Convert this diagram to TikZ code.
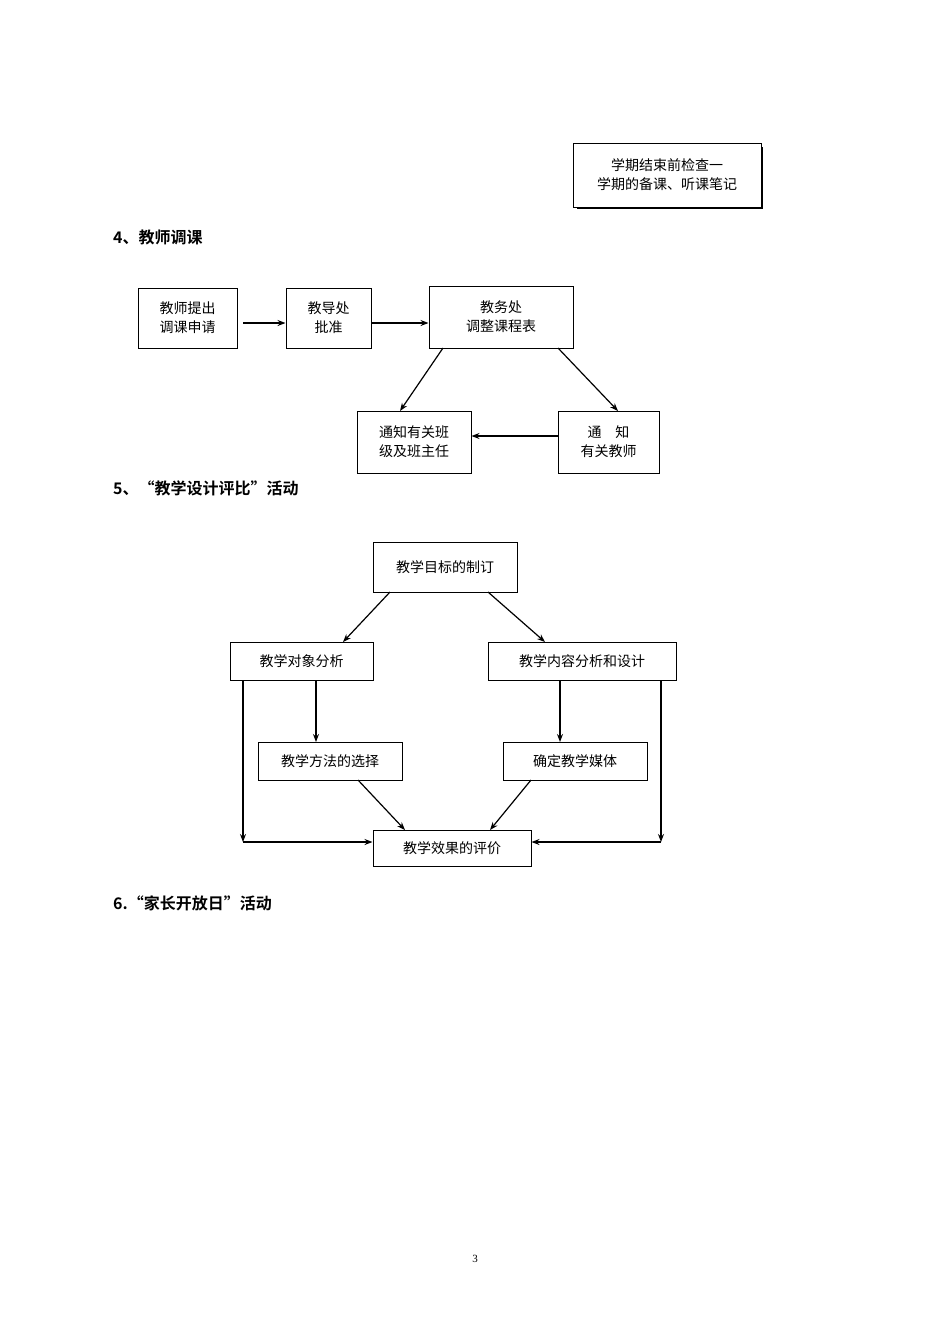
\documentclass[tikz,border=0pt]{standalone}
\usepackage{fontspec}
\setmainfont{Liberation Serif}
\newfontfamily\cjk{Noto Sans CJK SC}
\newfontfamily\cjkb{Noto Sans CJK SC Bold}
\usetikzlibrary{arrows.meta}
\begin{document}
\begin{tikzpicture}[x=1pt,y=-1pt,
 bx/.style={draw,line width=1pt,font=\cjk\fontsize{14}{19}\selectfont,align=center,inner sep=0pt},
 hd/.style={anchor=west,font=\cjkb\fontsize{16}{20}\selectfont,inner sep=0pt},
 ar/.style={line width=1.2pt,-{Stealth[length=8pt,width=6pt]}},
 ln/.style={line width=1.2pt}]
\useasboundingbox (0,0) rectangle (950,1344);
\fill[black] (577,147) rectangle (763,209);
\node[bx,fill=white,minimum width=188pt,minimum height=64pt] (t) at (667,175) {学期结束前检查一\\学期的备课、听课笔记};
\node[hd] (h4) at (113,237) {4、教师调课};
\node[bx,minimum width=99pt,minimum height=60pt] (a) at (187.5,318) {教师提出\\调课申请};
\node[bx,minimum width=85pt,minimum height=60pt] (b) at (328.5,318) {教导处\\批准};
\node[bx,minimum width=144pt,minimum height=62pt] (c) at (501,317) {教务处\\调整课程表};
\node[bx,minimum width=114pt,minimum height=62pt] (d) at (414,442) {通知有关班\\级及班主任};
\node[bx,minimum width=101pt,minimum height=62pt] (e) at (608.5,442) {通\quad 知\\有关教师};
\draw[ar] (243,323) -- (b.west|-0,323);
\draw[ar] (b.east|-0,323) -- (c.west|-0,323);
\draw[ar] (443,348) -- (400,411);
\draw[ar] (558,348) -- (618,411);
\draw[ar] (e.west|-0,436) -- (d.east|-0,436);
\node[hd] (h5) at (113,488) {5、“教学设计评比”活动};
\node[bx,minimum width=144pt,minimum height=50pt] (f) at (445,567) {教学目标的制订};
\node[bx,minimum width=143pt,minimum height=38pt] (g) at (301.5,661) {教学对象分析};
\node[bx,minimum width=188pt,minimum height=38pt] (h) at (582,661) {教学内容分析和设计};
\node[bx,minimum width=144pt,minimum height=38pt] (i) at (330,761) {教学方法的选择};
\node[bx,minimum width=144pt,minimum height=38pt] (j) at (575,761) {确定教学媒体};
\node[bx,minimum width=158pt,minimum height=36pt] (k) at (452,848) {教学效果的评价};
\draw[ar] (390,592) -- (343,642);
\draw[ar] (488,592) -- (545,642);
\draw[ar] (316,680) -- (316,742);
\draw[ar] (560,680) -- (560,742);
\draw[ar] (358,780) -- (405,830);
\draw[ar] (531,780) -- (490,830);
\coordinate (cl) at (243,842);
\coordinate (cr) at (661,842);
\draw[ar] (243,680) -- (cl);
\draw[ar] (cl) -- (k.west|-cl);
\draw[ar] (661,680) -- (cr);
\draw[ar] (cr) -- (k.east|-cr);
\node[hd] (h6) at (113,903) {6.“家长开放日”活动};
\node[font=\fontsize{11}{13}\selectfont] (p) at (475,1259) {3};
\end{tikzpicture}
\end{document}
